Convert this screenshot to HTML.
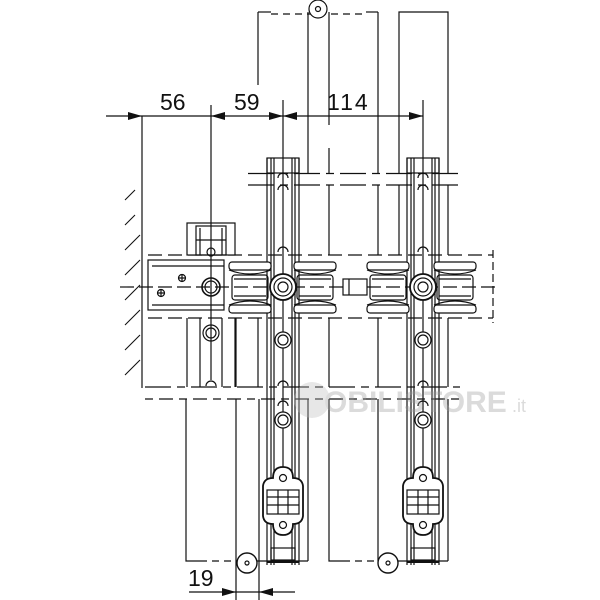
<!DOCTYPE html>
<html><head><meta charset="utf-8"><style>html,body{margin:0;padding:0;background:#fff}svg{display:block}</style></head><body>
<svg width="600" height="600" viewBox="0 0 600 600" xmlns="http://www.w3.org/2000/svg" fill="none" stroke="#111" stroke-width="1.2">
<defs>
<g id="col">
  <line x1="-16" y1="158" x2="-16" y2="565"/>
  <line x1="16" y1="158" x2="16" y2="565"/>
  <line x1="-12" y1="158" x2="-12" y2="565"/>
  <line x1="-9" y1="158" x2="-9" y2="565"/>
  <line x1="9" y1="158" x2="9" y2="565"/>
  <line x1="12" y1="158" x2="12" y2="565"/>
  <line x1="0" y1="100" x2="0" y2="480"/>
  <rect x="-16" y="158" width="32" height="15"/>
  <path d="M-5 178a5 5 0 0 1 10 0M-5 190a5 5 0 0 1 10 0M-5 252a5 5 0 0 1 10 0M-5 386a5 5 0 0 1 10 0M-5 406a5 5 0 0 1 10 0"/>
  <circle cx="0" cy="340" r="8" fill="#fff"/><circle cx="0" cy="340" r="5"/>
  <circle cx="0" cy="420" r="8" fill="#fff"/><circle cx="0" cy="420" r="5"/>
  <path d="M-10 478q0-11 10-11q10 0 10 11q9 0 10 8v30q-1 8-10 8q0 11-10 11q-10 0-10-11q-9 0-10-8v-30q1-8 10-8z" fill="#fff" stroke-width="1.8"/>
  <circle cx="0" cy="478" r="3.5"/><circle cx="0" cy="525" r="3.5"/>
  <rect x="-16" y="490" width="32" height="24" fill="#fff"/>
  <line x1="-16" y1="497" x2="16" y2="497"/><line x1="-16" y1="505" x2="16" y2="505"/>
  <line x1="-5" y1="490" x2="-5" y2="514"/><line x1="5" y1="490" x2="5" y2="514"/>
  <rect x="-12" y="548" width="24" height="12"/>
  <line x1="-16" y1="562" x2="16" y2="562" stroke-width="2"/>
</g>
<g id="roll">
  <rect x="-21" y="262" width="42" height="8" rx="3" fill="#fff"/>
  <path d="M-21 270q21 8 42 0" />
  <rect x="-21" y="305" width="42" height="8" rx="3" fill="#fff"/>
  <path d="M-21 305q21 -8 42 0" />
  <rect x="-18" y="275" width="36" height="25" rx="3"/>
  <line x1="-16" y1="279" x2="16" y2="279"/><line x1="-16" y1="296" x2="16" y2="296"/>
</g>
</defs>

<line x1="258" y1="12" x2="258" y2="85"/>
<line x1="258" y1="12" x2="271" y2="12"/>
<line x1="366" y1="12" x2="378" y2="12"/>
<line x1="271" y1="14" x2="366" y2="14" stroke-dasharray="7 5"/>
<line x1="378" y1="12" x2="378" y2="173"/>
<line x1="308" y1="12" x2="308" y2="173"/>
<line x1="329" y1="12" x2="329" y2="125"/>
<line x1="329" y1="148" x2="329" y2="173"/>
<circle cx="318" cy="9" r="9" fill="#fff"/><circle cx="318" cy="9" r="2.5"/>
<path d="M399 173V12H448V173"/>

<line x1="248" y1="173.5" x2="462" y2="173.5" stroke-dasharray="26 6 8 6"/>
<line x1="248" y1="185" x2="462" y2="185" stroke-dasharray="26 6 8 6"/>
<line x1="148" y1="255" x2="493" y2="255" stroke-dasharray="14 6"/>
<line x1="148" y1="318" x2="493" y2="318" stroke-dasharray="14 6"/>
<line x1="493" y1="250" x2="493" y2="323" stroke-dasharray="8 4"/>
<line x1="145" y1="387" x2="460" y2="387" stroke-dasharray="26 6 8 6"/>
<line x1="145" y1="399" x2="460" y2="399" stroke-dasharray="8 6 14 6"/>

<line x1="329" y1="185" x2="329" y2="255"/>
<line x1="378" y1="185" x2="378" y2="255"/>
<line x1="399" y1="185" x2="399" y2="255"/>
<line x1="448" y1="185" x2="448" y2="255"/>
<line x1="329" y1="318" x2="329" y2="387"/>
<line x1="378" y1="318" x2="378" y2="387"/>
<line x1="448" y1="318" x2="448" y2="387"/>
<line x1="258" y1="318" x2="258" y2="387"/>
<line x1="236" y1="318" x2="236" y2="387"/>

<path d="M186 399V561H200"/>
<line x1="200" y1="561" x2="237" y2="561" stroke-dasharray="7 5"/>
<line x1="236" y1="399" x2="236" y2="600"/>
<line x1="259" y1="399" x2="259" y2="600"/>
<line x1="308" y1="399" x2="308" y2="561"/>
<path d="M329 399V561H343"/>
<line x1="343" y1="561" x2="378" y2="561" stroke-dasharray="7 5"/>
<line x1="378" y1="399" x2="378" y2="561"/>
<line x1="448" y1="399" x2="448" y2="561"/>
<line x1="255" y1="561" x2="308" y2="561"/>
<line x1="396" y1="561" x2="448" y2="561"/>

<use href="#col" x="283"/>
<use href="#col" x="423"/>

<line x1="142" y1="116" x2="142" y2="388"/>
<g stroke-width="1.1">
<line x1="125" y1="200" x2="135" y2="190"/><line x1="125" y1="225" x2="135" y2="215"/>
<line x1="125" y1="250" x2="140" y2="235"/><line x1="125" y1="275" x2="140" y2="260"/>
<line x1="125" y1="300" x2="140" y2="285"/><line x1="125" y1="325" x2="140" y2="310"/>
<line x1="125" y1="350" x2="140" y2="335"/><line x1="125" y1="375" x2="140" y2="360"/>
</g>

<rect x="187" y="223" width="48" height="32" fill="#fff"/>
<rect x="196" y="226" width="30" height="29"/>
<line x1="200" y1="228" x2="200" y2="255"/><line x1="222" y1="228" x2="222" y2="255"/>
<line x1="196" y1="240" x2="226" y2="240"/>
<circle cx="211" cy="252" r="4"/>
<rect x="148" y="260" width="76" height="50" fill="#fff"/>
<line x1="152" y1="266" x2="224" y2="266"/><line x1="152" y1="305" x2="224" y2="305"/>
<circle cx="211" cy="287" r="9" fill="#fff" stroke-width="1.6"/><circle cx="211" cy="287" r="6"/>
<circle cx="182" cy="278" r="3.5"/><path d="M178 278h8M182 274v8"/>
<circle cx="161" cy="293" r="3.5"/><path d="M157 293h8M161 289v8"/>
<path d="M187 318V387M200 318V387M222 318V387M235 318V387"/>
<circle cx="211" cy="333" r="8" fill="#fff"/><circle cx="211" cy="333" r="5"/>
<path d="M206 386a5 5 0 0 1 10 0"/>
<line x1="211" y1="105" x2="211" y2="380"/>

<use href="#roll" x="250"/>
<use href="#roll" x="315"/>
<use href="#roll" x="388"/>
<use href="#roll" x="455"/>
<line x1="120" y1="287" x2="500" y2="287" stroke-dasharray="14 5"/>
<circle cx="283" cy="287" r="13" fill="#fff" stroke-width="1.8"/><circle cx="283" cy="287" r="9"/><circle cx="283" cy="287" r="5"/>
<circle cx="423" cy="287" r="13" fill="#fff" stroke-width="1.8"/><circle cx="423" cy="287" r="9"/><circle cx="423" cy="287" r="5"/>
<rect x="343" y="279" width="24" height="16" fill="#fff"/>
<line x1="349" y1="279" x2="349" y2="295"/>

<circle cx="247" cy="563" r="10" fill="#fff" stroke-width="1.4"/><circle cx="247" cy="563" r="2"/>
<circle cx="388" cy="563" r="10" fill="#fff" stroke-width="1.4"/><circle cx="388" cy="563" r="2"/>

<line x1="106" y1="116" x2="423" y2="116"/>
<g fill="#111" stroke="none">
<path d="M142 116l-14-4v8z"/>
<path d="M211 116l14-4v8z"/>
<path d="M283 116l-14-4v8z"/>
<path d="M283 116l14-4v8z"/>
<path d="M423 116l-14-4v8z"/>
<path d="M236 592l-14-4v8z"/>
<path d="M259 592l14-4v8z"/>
</g>
<line x1="189" y1="592" x2="295" y2="592"/>
<g fill="#111" stroke="none" font-family="Liberation Sans, sans-serif" font-size="23">
<text x="160" y="110">56</text>
<text x="234" y="110">59</text>
<text x="327" y="110" letter-spacing="2">114</text>
<text x="188" y="586">19</text>
</g>
<g opacity="0.35">
<circle cx="312" cy="400" r="18" fill="#bbb" stroke="none"/>
<text x="324" y="412" font-family="Liberation Sans, sans-serif" font-weight="bold" font-size="30" fill="#999" stroke="none">OBILISTORE</text>
<text x="512" y="412" font-family="Liberation Sans, sans-serif" font-size="18" fill="#999" stroke="none">.it</text>
</g>
</svg>
</body></html>
